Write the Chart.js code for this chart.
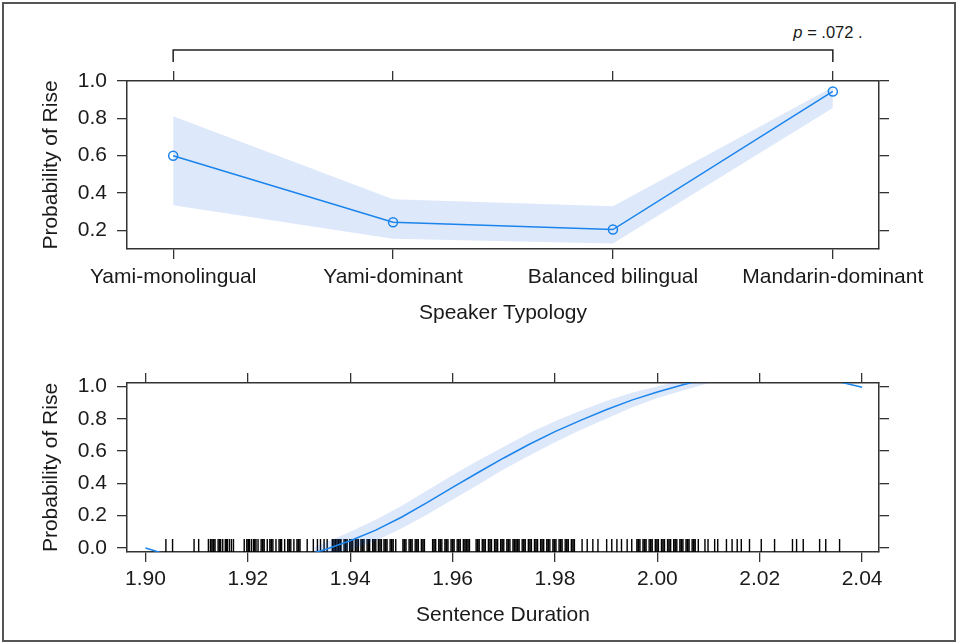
<!DOCTYPE html>
<html>
<head>
<meta charset="utf-8">
<script src="https://cdn.jsdelivr.net/npm/chart.js@4/dist/chart.umd.min.js"></script>
<style>
  html, body { margin: 0; padding: 0; background: #ffffff; }
  body { width: 957px; height: 643px; position: relative; overflow: hidden; font-family: "Liberation Sans", Arial, sans-serif; }
  #frame { position: absolute; left: 2px; top: 2px; width: 950px; height: 636px; border: 2px solid #555; box-sizing: content-box; pointer-events: none; }
  #c1 { position: absolute; left: 0; top: 0; }
  #c2 { position: absolute; left: 0; top: 340px; }
  #ptext { position: absolute; left: 768px; top: 22px; width: 120px; text-align: center; font-size: 16.5px; line-height: 20px; color: #1a1a1a; }
</style>
</head>
<body>
<div id="frame"></div>
<div id="ptext"><i>p</i> = .072 .</div>
<canvas id="c1" width="957" height="340"></canvas>
<canvas id="c2" width="957" height="303"></canvas>
<script>
// ---------- data: top panel ----------
const typologyCategories = ['Yami-monolingual', 'Yami-dominant', 'Balanced bilingual', 'Mandarin-dominant'];
const typologyFit   = [0.600, 0.243, 0.204, 0.944];
const typologyLower = [0.334, 0.155, 0.129, 0.856];
const typologyUpper = [0.811, 0.366, 0.329, 0.968];
const typologyYTicks = [0.2, 0.4, 0.6, 0.8, 1.0];

// ---------- data: bottom panel ----------
const durationX   = [1.900, 1.905, 1.910, 1.915, 1.920, 1.925, 1.930, 1.935, 1.940, 1.945, 1.950, 1.955, 1.960, 1.965, 1.970, 1.975, 1.980, 1.985, 1.990, 1.995, 2.000, 2.005, 2.010, 2.015, 2.020, 2.025, 2.030, 2.035, 2.040];
const durationFit = [0.000, -0.048, -0.079, -0.097, -0.098, -0.084, -0.055, -0.011, 0.045, 0.110, 0.190, 0.280, 0.375, 0.467, 0.557, 0.642, 0.720, 0.790, 0.855, 0.915, 0.965, 1.010, 1.050, 1.080, 1.090, 1.090, 1.070, 1.032, 0.995];
const bandX     = [1.933, 1.935, 1.940, 1.945, 1.950, 1.955, 1.960, 1.965, 1.970, 1.975, 1.980, 1.985, 1.990, 1.995, 2.000, 2.005, 2.010];
const bandUpper = [0.005, 0.030, 0.100, 0.175, 0.260, 0.355, 0.450, 0.542, 0.627, 0.712, 0.785, 0.850, 0.910, 0.960, 1.000, 1.040, 1.080];
const bandLower = [-0.060, -0.050, -0.010, 0.045, 0.120, 0.205, 0.300, 0.392, 0.487, 0.572, 0.655, 0.730, 0.800, 0.870, 0.928, 0.975, 1.020];
const durationXTicks = [1.90, 1.92, 1.94, 1.96, 1.98, 2.00, 2.02, 2.04];
const durationYTicks = [0.0, 0.2, 0.4, 0.6, 0.8, 1.0];
const rugDurations = [
  1.9040, 1.9053, 1.9095, 1.9104,
  1.9123, 1.9127, 1.9130, 1.9133, 1.9136, 1.9142, 1.9145, 1.9147, 1.9151, 1.9156, 1.9158, 1.9160, 1.9164, 1.9168, 1.9172,
  1.9193, 1.9198, 1.9201, 1.9203, 1.9207, 1.9211, 1.9213, 1.9216, 1.9220, 1.9226, 1.9229, 1.9232, 1.9238, 1.9243, 1.9246, 1.9249, 1.9255, 1.9261, 1.9264, 1.9266, 1.9272, 1.9278, 1.9281, 1.9284, 1.9290, 1.9296, 1.9299, 1.9302,
  1.9316, 1.9328, 1.9336, 1.9342, 1.9349, 1.9355,
  1.9365, 1.9368, 1.9371, 1.9374, 1.9377, 1.9380, 1.9382, 1.9388, 1.9391, 1.9394, 1.9399, 1.9402, 1.9405, 1.9410, 1.9413, 1.9416, 1.9421, 1.9424, 1.9427, 1.9433, 1.9436, 1.9438, 1.9444, 1.9447, 1.9450, 1.9455, 1.9458, 1.9461, 1.9466, 1.9469, 1.9472, 1.9478, 1.9481, 1.9484, 1.9489,
  1.9503, 1.9506, 1.9509, 1.9515, 1.9518, 1.9521, 1.9527, 1.9530, 1.9533, 1.9539, 1.9542, 1.9545,
  1.9561, 1.9564, 1.9567, 1.9573, 1.9576, 1.9579, 1.9585, 1.9588, 1.9591, 1.9597, 1.9600, 1.9603, 1.9609, 1.9612, 1.9615, 1.9621, 1.9624, 1.9627, 1.9630, 1.9633,
  1.9646, 1.9649, 1.9652, 1.9658, 1.9661, 1.9664, 1.9670, 1.9673, 1.9676, 1.9682, 1.9685, 1.9688, 1.9694, 1.9697, 1.9700, 1.9706, 1.9709, 1.9712, 1.9718, 1.9721, 1.9724, 1.9727, 1.9730, 1.9736, 1.9739, 1.9742, 1.9748, 1.9751, 1.9754, 1.9760, 1.9763, 1.9766, 1.9772, 1.9775, 1.9778, 1.9784, 1.9787, 1.9790, 1.9796, 1.9799, 1.9802, 1.9808, 1.9811, 1.9814, 1.9820, 1.9823, 1.9826, 1.9832, 1.9835, 1.9838,
  1.9853, 1.9863, 1.9874, 1.9884, 1.9901, 1.9911, 1.9921, 1.9930, 1.9941, 1.9950,
  1.9960, 1.9963, 1.9966, 1.9972, 1.9975, 1.9978, 1.9984, 1.9987, 1.9990, 1.9996, 1.9999, 2.0002, 2.0008, 2.0011, 2.0014, 2.0020, 2.0023, 2.0026, 2.0032, 2.0035, 2.0038, 2.0044, 2.0047, 2.0050, 2.0056, 2.0059, 2.0062, 2.0068, 2.0071, 2.0074, 2.0080,
  2.0093, 2.0099, 2.0112, 2.0118, 2.0135, 2.0146, 2.0156, 2.0164, 2.0180, 2.0203, 2.0229, 2.0264, 2.0272, 2.0285, 2.0317, 2.0329, 2.0356
];

// ---------- styles ----------
const FONT = '"Liberation Sans", Arial, sans-serif';
const TEXT = '#1a1a1a';
const AXIS = '#333333';
const LINE = '#1a84ec';
const BAND = 'rgba(0, 82, 217, 0.135)';

Chart.defaults.font.family = FONT;
Chart.defaults.color = TEXT;

function gridOpts() {
  return { drawOnChartArea: false, drawTicks: true, tickLength: 10, color: AXIS, lineWidth: 1.3 };
}
function borderOpts() {
  return { display: true, color: AXIS, width: 1.5 };
}
function fixedTicks(list) {
  return s => { s.ticks = list.map(v => ({ value: v })); };
}

// ---------- top panel plugin: bracket ----------
const bracketPlugin = {
  id: 'bracket',
  afterDraw(chart) {
    const xs = chart.scales.x;
    const top = chart.chartArea.top;
    const x0 = xs.getPixelForValue(0);
    const x1 = xs.getPixelForValue(typologyCategories.length - 1);
    const ctx = chart.ctx;
    ctx.save();
    ctx.strokeStyle = '#222';
    ctx.lineWidth = 1.5;
    ctx.beginPath();
    ctx.moveTo(x0, top - 19);
    ctx.lineTo(x0, top - 31);
    ctx.lineTo(x1, top - 31);
    ctx.lineTo(x1, top - 19);
    ctx.stroke();
    ctx.restore();
  }
};

const catIdx = typologyCategories.map((_, i) => i);

new Chart(document.getElementById('c1'), {
  type: 'line',
  data: {
    datasets: [
      {
        data: typologyFit.map((v, i) => ({ x: i, y: v })),
        borderColor: LINE, borderWidth: 1.5,
        pointStyle: 'circle', pointRadius: 4.5, pointBorderWidth: 1.5,
        pointBorderColor: LINE, pointBackgroundColor: 'rgba(0,0,0,0)',
        fill: false, tension: 0
      },
      {
        data: typologyLower.map((v, i) => ({ x: i, y: v })),
        borderWidth: 0, pointRadius: 0, fill: false, borderColor: 'rgba(0,0,0,0)'
      },
      {
        data: typologyUpper.map((v, i) => ({ x: i, y: v })),
        borderWidth: 0, pointRadius: 0, fill: '-1', backgroundColor: BAND, borderColor: 'rgba(0,0,0,0)'
      }
    ]
  },
  options: {
    responsive: false, animation: false, devicePixelRatio: 1,
    layout: { padding: 0 },
    plugins: { legend: { display: false }, tooltip: { enabled: false } },
    scales: {
      x: {
        type: 'linear', position: 'bottom', min: -0.21, max: 3.21,
        afterBuildTicks: fixedTicks(catIdx),
        ticks: { callback: v => typologyCategories[v], font: { size: 21 }, color: TEXT, padding: 6, maxRotation: 0, autoSkip: false },
        grid: gridOpts(), border: borderOpts(),
        title: { display: true, text: 'Speaker Typology', font: { size: 21 }, color: TEXT, padding: { top: 0, bottom: 14 } },
        afterFit: s => { s.height = 91; }
      },
      x2: {
        type: 'linear', position: 'top', min: -0.21, max: 3.21,
        afterBuildTicks: fixedTicks(catIdx),
        ticks: { display: false },
        grid: gridOpts(), border: borderOpts(),
        afterFit: s => { s.height = 81; }
      },
      y: {
        type: 'linear', position: 'left', min: 0.1, max: 1.0,
        afterBuildTicks: fixedTicks(typologyYTicks),
        ticks: { callback: v => v.toFixed(1), font: { size: 21 }, color: TEXT, padding: 10 },
        grid: gridOpts(), border: borderOpts(),
        title: { display: true, text: 'Probability of Rise', font: { size: 21 }, color: TEXT, padding: { top: 39, bottom: 0 } },
        afterFit: s => { s.width = 127; }
      },
      y2: {
        type: 'linear', position: 'right', min: 0.1, max: 1.0,
        afterBuildTicks: fixedTicks(typologyYTicks),
        ticks: { display: false },
        grid: gridOpts(), border: borderOpts(),
        afterFit: s => { s.width = 78; }
      }
    }
  },
  plugins: [bracketPlugin]
});

// ---------- bottom panel plugin: rug ----------
const rugPlugin = {
  id: 'rug',
  beforeDatasetsDraw(chart) {
    const xs = chart.scales.x;
    const area = chart.chartArea;
    const ctx = chart.ctx;
    ctx.save();
    ctx.strokeStyle = '#000';
    ctx.lineWidth = 1.4;
    ctx.beginPath();
    rugDurations.forEach(v => {
      const px = xs.getPixelForValue(v);
      ctx.moveTo(px, area.bottom);
      ctx.lineTo(px, area.bottom - 13);
    });
    ctx.stroke();
    ctx.restore();
  }
};

new Chart(document.getElementById('c2'), {
  type: 'line',
  data: {
    datasets: [
      {
        data: durationX.map((x, i) => ({ x: x, y: durationFit[i] })),
        borderColor: LINE, borderWidth: 1.5, pointRadius: 0, fill: false, tension: 0
      },
      {
        data: bandX.map((x, i) => ({ x: x, y: bandLower[i] })),
        borderWidth: 0, pointRadius: 0, fill: false, borderColor: 'rgba(0,0,0,0)'
      },
      {
        data: bandX.map((x, i) => ({ x: x, y: bandUpper[i] })),
        borderWidth: 0, pointRadius: 0, fill: '-1', backgroundColor: BAND, borderColor: 'rgba(0,0,0,0)'
      }
    ]
  },
  options: {
    responsive: false, animation: false, devicePixelRatio: 1,
    layout: { padding: 0 },
    plugins: { legend: { display: false }, tooltip: { enabled: false } },
    scales: {
      x: {
        type: 'linear', position: 'bottom', min: 1.8964, max: 2.0433,
        afterBuildTicks: fixedTicks(durationXTicks),
        ticks: { callback: v => v.toFixed(2), font: { size: 21 }, color: TEXT, padding: 5, maxRotation: 0, autoSkip: false },
        grid: gridOpts(), border: borderOpts(),
        title: { display: true, text: 'Sentence Duration', font: { size: 21 }, color: TEXT, padding: { top: 0, bottom: 15 } },
        afterFit: s => { s.height = 91; }
      },
      x2: {
        type: 'linear', position: 'top', min: 1.8964, max: 2.0433,
        afterBuildTicks: fixedTicks(durationXTicks),
        ticks: { display: false },
        grid: gridOpts(), border: borderOpts(),
        afterFit: s => { s.height = 43; }
      },
      y: {
        type: 'linear', position: 'left', min: -0.025, max: 1.021,
        afterBuildTicks: fixedTicks(durationYTicks),
        ticks: { callback: v => v.toFixed(1), font: { size: 21 }, color: TEXT, padding: 10 },
        grid: gridOpts(), border: borderOpts(),
        title: { display: true, text: 'Probability of Rise', font: { size: 21 }, color: TEXT, padding: { top: 39, bottom: 0 } },
        afterFit: s => { s.width = 127; }
      },
      y2: {
        type: 'linear', position: 'right', min: -0.025, max: 1.021,
        afterBuildTicks: fixedTicks(durationYTicks),
        ticks: { display: false },
        grid: gridOpts(), border: borderOpts(),
        afterFit: s => { s.width = 78; }
      }
    }
  },
  plugins: [rugPlugin]
});
</script>
</body>
</html>
